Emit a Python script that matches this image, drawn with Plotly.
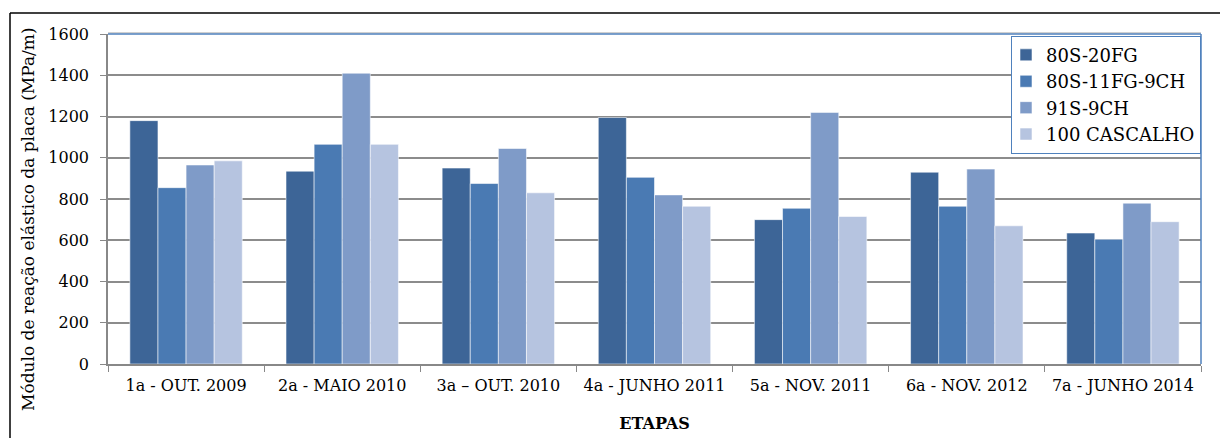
import plotly.graph_objects as go

etapas = ["1a - OUT. 2009", "2a - MAIO 2010", "3a \u2013 OUT. 2010", "4a - JUNHO 2011",
          "5a - NOV. 2011", "6a - NOV. 2012", "7a - JUNHO 2014"]

s_80s_20fg = [1180, 935, 950, 1195, 700, 930, 635]
s_80s_11fg_9ch = [855, 1065, 875, 905, 755, 765, 605]
s_91s_9ch = [965, 1410, 1045, 820, 1220, 945, 780]
s_100_cascalho = [985, 1065, 830, 765, 715, 670, 690]

series = [
    ("80S-20FG", s_80s_20fg, "#3D6597"),
    ("80S-11FG-9CH", s_80s_11fg_9ch, "#4A7AB3"),
    ("91S-9CH", s_91s_9ch, "#7F9BC8"),
    ("100 CASCALHO", s_100_cascalho, "#B6C4E0"),
]

font = "DejaVu Serif"

# plot-area geometry in pixels (used for the outer frame and the y title)
W, H = 1220, 438
ML, MR, MT, MB = 108, 19, 34, 74
PW, PH = W - ML - MR, H - MT - MB


def px_x(x):
    return (x - ML) / PW


def px_y(y):
    return (H - MB - y) / PH


fig = go.Figure()
for name, vals, color in series:
    fig.add_trace(go.Bar(
        name=name, x=etapas, y=vals,
        marker=dict(color=color, line=dict(color="rgba(255,255,255,0.55)", width=1)),
    ))

fig.update_layout(
    width=W, height=H,
    margin=dict(l=ML, r=MR, t=MT, b=MB),
    paper_bgcolor="white", plot_bgcolor="white",
    barmode="group", bargap=0.28, bargroupgap=0,
    font=dict(family=font, size=16, color="black"),
    showlegend=True,
    legend=dict(
        x=1, xanchor="right", y=0.995, yanchor="top",
        bordercolor="#4F81BD", borderwidth=1, bgcolor="white",
        font=dict(family=font, size=18), tracegroupgap=0,
        itemwidth=30, indentation=-6,
    ),
    xaxis=dict(
        title=dict(text="<b>ETAPAS</b>", font=dict(family=font, size=16), standoff=24),
        showline=True, linecolor="#888888", linewidth=1.5,
        ticks="outside", tickson="boundaries", ticklen=6, tickcolor="#888888",
        tickfont=dict(family=font, size=16), ticklabelstandoff=6,
        automargin=False,
    ),
    yaxis=dict(
        range=[0, 1600], dtick=200,
        showgrid=True, gridcolor="#8C8C8C", gridwidth=1.5,
        showline=True, linecolor="#888888", linewidth=1.5,
        ticks="outside", ticklen=6, tickcolor="#888888",
        tickfont=dict(family=font, size=16), ticklabelstandoff=8,
        zeroline=False, automargin=False,
    ),
)

# y-axis title
fig.add_annotation(
    text="Módulo de reação elástico da placa (MPa/m)",
    xref="paper", yref="paper", x=px_x(28), y=px_y(219),
    xanchor="center", yanchor="middle", textangle=-90, showarrow=False,
    font=dict(family=font, size=17, color="black"),
)

# blue frame along the top and right of the plot area, with a light shadow
fig.add_shape(type="line", xref="paper", yref="paper", x0=0, x1=1, y0=1.004, y1=1.004,
              line=dict(color="#D0D0D0", width=1.5))
fig.add_shape(type="line", xref="paper", yref="paper", x0=0, x1=1, y0=1, y1=1,
              line=dict(color="#4F81BD", width=1.5))
fig.add_shape(type="line", xref="paper", yref="paper", x0=1, x1=1, y0=0, y1=1,
              line=dict(color="#4F81BD", width=1.5))

# outer border of the figure (left and top edges)
fig.add_shape(type="line", xref="paper", yref="paper",
              x0=px_x(10), x1=px_x(10), y0=px_y(440), y1=px_y(13),
              line=dict(color="black", width=1.5))
fig.add_shape(type="line", xref="paper", yref="paper",
              x0=px_x(10), x1=px_x(1225), y0=px_y(13), y1=px_y(13),
              line=dict(color="black", width=1.5))

fig.write_html("out.html")
